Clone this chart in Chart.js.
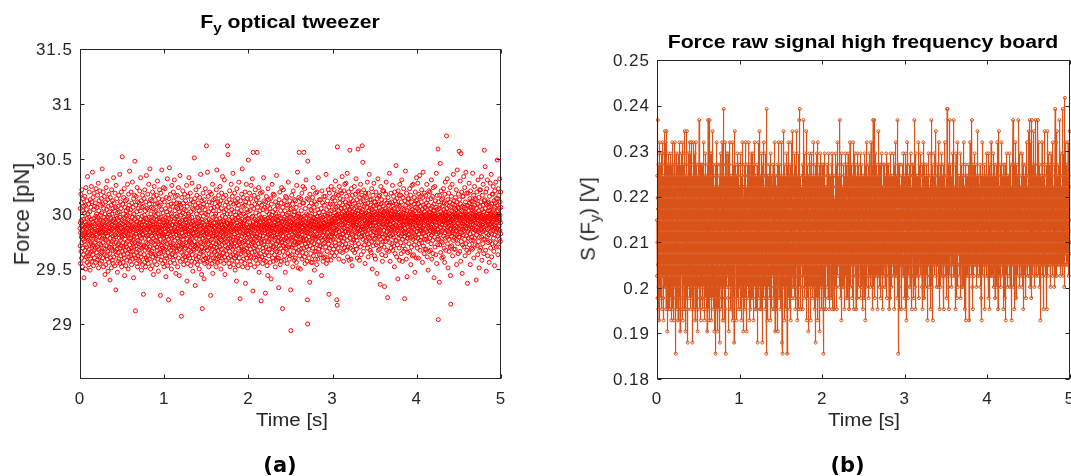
<!DOCTYPE html>
<html><head><meta charset="utf-8">
<script src="https://cdn.jsdelivr.net/npm/chart.js@4.4.1/dist/chart.umd.min.js"></script>
<style>
html,body{margin:0;padding:0;background:#fff;}
#wrap{position:relative;width:1071px;height:476px;overflow:hidden;font-family:"Liberation Sans",Arial,sans-serif;}
canvas{position:absolute;left:0;top:0;}
.t{position:absolute;white-space:nowrap;line-height:1;color:#262626;}
.sub{font-size:0.72em;position:relative;top:0.34em;}
</style></head>
<body><div id="wrap">
<canvas id="ca" width="1071" height="476"></canvas>
<canvas id="cb" width="1071" height="476"></canvas>
<div class="t" style="left:289.5px;top:12.8px;font-size:18px;font-weight:bold;color:#000;transform:translateX(-50%) scaleX(1.18);">F<span class="sub">y</span> optical tweezer</div>
<div class="t" style="left:862.5px;top:32.8px;font-size:18px;font-weight:bold;color:#000;transform:translateX(-50%) scaleX(1.18);">Force raw signal high frequency board</div>
<div class="t" style="left:291.5px;top:412.2px;font-size:17.5px;transform:translateX(-50%) scaleX(1.17);">Time [s]</div>
<div class="t" style="left:863.5px;top:412.2px;font-size:17.5px;transform:translateX(-50%) scaleX(1.17);">Time [s]</div>
<div class="t" style="left:21.5px;top:214px;font-size:22px;transform:translate(-50%,-50%) rotate(-90deg);">Force [pN]</div>
<div class="t" style="left:587.5px;top:218.5px;font-size:20.5px;transform:translate(-50%,-50%) rotate(-90deg);">S (F<span class="sub">y</span>) [V]</div>
<div class="t" style="left:280px;top:454.9px;font-size:21px;font-weight:bold;color:#000;font-family:'DejaVu Sans';transform:translateX(-50%);">(a)</div>
<div class="t" style="left:847.5px;top:454.9px;font-size:21px;font-weight:bold;color:#000;font-family:'DejaVu Sans';transform:translateX(-50%);">(b)</div>
</div>
<script>
// ---------- Panel (a): optical tweezer force in pN, 600 samples per second ----------
const forceA = [
29.87,29.71,30.05,29.92,29.55,29.83,30.18,29.66,29.94,29.79,30.1,29.6,29.89,30.22,29.74,29.85,29.98,29.52,29.81,30.03,29.69,29.9,30.14,29.77,29.86,29.63,30.07,29.95,29.42,29.8,
30.01,29.75,29.58,29.88,30.16,29.82,29.67,29.93,30.08,29.5,29.84,29.72,30.24,29.9,29.61,29.79,30.04,29.86,29.7,30.12,29.96,29.56,29.83,29.65,30.34,29.91,29.78,30.0,29.62,29.89,
29.76,30.09,29.84,29.54,29.97,29.68,30.2,29.81,29.92,29.64,30.02,29.87,29.49,29.75,30.13,29.9,29.59,29.82,30.06,29.73,29.95,30.25,29.66,29.88,29.8,29.57,30.11,29.85,29.71,30.38,
29.93,29.63,29.8,30.15,29.72,29.89,29.53,30.04,29.78,29.96,30.19,29.67,29.84,29.6,30.07,29.91,29.74,29.36,29.86,30.1,29.69,29.98,29.56,29.82,30.23,29.77,29.94,29.65,30.0,29.85,
29.81,30.06,29.58,29.92,29.7,30.17,29.85,29.62,29.97,29.76,30.28,29.88,29.51,29.83,30.03,29.68,29.9,30.12,29.73,29.95,29.61,29.86,30.21,29.79,29.55,29.99,29.84,30.08,29.66,29.89,
29.72,29.94,30.14,29.83,29.57,30.01,29.87,29.65,30.41,29.78,29.91,30.09,29.6,29.84,29.74,30.2,29.93,29.52,29.8,30.05,29.69,29.97,29.86,30.16,29.63,29.89,29.77,30.0,29.45,29.82,
29.9,29.68,30.11,29.85,29.54,29.95,30.24,29.76,29.83,29.62,30.04,29.88,29.71,30.3,29.93,29.59,29.8,30.13,29.66,29.97,29.48,29.84,30.07,29.74,29.91,29.56,30.18,29.87,29.7,29.99,
29.84,30.02,29.64,29.92,29.4,29.78,30.15,29.88,29.6,29.96,29.73,30.08,29.82,29.51,29.9,30.22,29.69,29.86,30.0,29.75,29.58,29.94,30.12,29.8,29.67,30.05,29.87,29.55,29.93,30.33,
29.77,29.95,29.61,30.1,29.85,29.7,30.03,29.89,29.53,29.81,30.19,29.66,29.92,29.79,30.06,29.31,29.87,30.26,29.74,29.98,29.63,29.83,30.14,29.9,29.68,29.96,29.47,29.86,30.01,29.72,
29.88,29.65,30.07,29.82,29.57,29.94,30.17,29.73,29.59,29.9,30.02,29.78,29.85,30.36,29.69,29.97,29.55,29.83,30.11,29.76,29.92,29.62,30.05,29.87,29.71,30.2,29.8,29.52,29.95,29.84,
29.79,30.52,29.66,29.91,30.09,29.74,29.85,29.56,30.0,29.88,29.63,30.15,29.81,29.7,29.96,30.23,29.6,29.86,29.44,29.93,30.06,29.77,29.89,29.67,30.12,29.83,29.53,29.98,29.73,30.03,
29.92,29.7,29.84,30.13,29.58,29.87,29.99,29.75,30.27,29.82,29.64,29.95,30.05,29.5,29.8,29.9,30.18,29.68,29.86,29.61,30.08,29.78,29.94,30.39,29.72,29.85,29.57,30.01,29.89,29.66,
29.85,30.04,29.62,29.78,30.2,29.93,29.69,29.87,29.54,30.1,29.81,29.74,29.97,30.29,29.66,29.89,29.59,29.83,30.06,29.76,29.91,29.42,30.14,29.86,29.7,30.0,29.8,29.63,29.95,30.17,
29.74,30.48,29.88,29.6,29.96,29.12,29.82,30.08,29.71,29.9,30.16,29.65,29.85,29.55,30.02,29.79,29.93,30.24,29.68,29.87,29.52,30.11,29.76,29.97,29.62,29.84,30.05,29.73,29.91,29.58,
29.89,29.67,30.1,29.83,29.75,30.21,29.57,29.92,29.8,30.03,29.64,29.87,30.33,29.72,29.95,29.61,29.84,30.12,29.49,29.9,29.78,30.06,29.69,29.98,29.86,30.17,29.54,29.81,29.93,29.7,
29.82,30.07,29.27,29.94,29.71,29.88,30.14,29.63,29.85,29.99,29.56,30.22,29.78,29.9,29.67,30.03,29.83,29.52,29.96,30.11,29.74,29.87,29.6,30.35,29.8,29.69,29.92,30.05,29.58,29.86,
29.95,29.73,29.86,30.18,29.62,29.9,29.55,30.04,29.81,29.68,30.27,29.88,29.77,29.97,29.59,30.09,29.84,29.7,30.41,29.92,29.65,29.83,30.13,29.5,29.89,30.0,29.75,29.94,29.64,30.06,
29.8,29.97,29.66,30.12,29.87,29.53,29.93,30.2,29.74,29.85,29.61,30.05,29.9,29.45,29.78,30.16,29.69,29.96,29.83,30.25,29.57,29.88,29.72,30.02,29.91,29.63,30.09,29.84,29.76,29.98,
29.86,29.62,30.03,29.79,30.17,29.91,29.7,29.54,29.95,30.1,29.83,29.67,30.3,29.88,29.75,29.59,30.0,29.82,29.48,29.93,30.14,29.73,29.87,29.64,30.07,29.8,29.96,30.22,29.68,29.85,
29.93,29.77,30.08,29.26,29.88,29.65,30.19,29.84,29.58,29.97,29.72,30.04,29.86,30.4,29.61,29.9,29.8,30.13,29.69,29.95,29.55,29.82,30.01,29.74,29.89,30.24,29.66,29.92,29.78,29.52,
29.81,30.11,29.68,29.94,29.57,29.87,30.23,29.75,29.9,29.62,30.05,29.84,29.43,29.97,29.7,30.15,29.79,29.88,30.02,29.6,29.93,29.73,30.32,29.86,29.53,29.99,29.82,30.08,29.65,29.91,
29.77,29.22,29.96,29.85,30.14,29.69,29.89,30.42,29.61,29.83,30.04,29.74,29.92,29.56,30.18,29.8,29.67,29.95,30.09,29.72,29.87,29.5,30.0,29.78,29.9,30.26,29.63,29.84,29.98,29.7,
29.9,29.64,30.07,29.82,29.73,30.2,29.58,29.93,29.86,30.12,29.69,29.79,30.31,29.88,29.55,29.96,29.76,30.03,29.84,29.62,30.16,29.91,29.71,29.46,29.85,30.06,29.81,29.67,29.97,30.1,
29.84,29.98,29.66,30.17,29.78,29.9,29.52,30.05,29.87,29.71,29.95,30.24,29.6,29.83,29.75,30.1,29.92,29.44,29.8,30.02,29.68,29.89,30.35,29.74,29.93,29.57,30.08,29.86,29.7,29.99,
29.79,30.06,29.07,29.88,29.65,30.15,29.83,29.28,29.94,29.72,30.01,29.86,29.59,30.21,29.77,29.91,29.63,30.1,29.8,29.54,29.97,29.73,30.04,29.87,29.68,29.9,30.18,29.61,29.84,29.95,
29.87,29.69,30.12,29.81,29.58,29.95,30.03,29.74,29.89,30.26,29.64,29.84,29.39,29.92,30.07,29.77,29.86,29.55,30.16,29.9,29.71,29.98,29.62,30.0,29.82,29.67,30.33,29.85,29.75,29.93,
29.76,29.96,29.6,30.09,29.84,29.7,30.19,29.88,29.53,29.8,30.02,29.66,29.91,30.13,29.74,29.85,29.57,29.97,30.28,29.79,29.63,29.89,30.05,29.72,29.48,29.93,29.82,30.11,29.68,29.86,
29.83,30.04,29.67,29.9,30.51,29.75,29.87,29.56,30.14,29.8,29.94,29.35,29.71,30.08,29.86,29.62,30.22,29.78,29.92,29.59,30.0,29.84,29.69,30.17,29.89,29.73,29.97,29.54,30.06,29.81,
29.91,29.72,30.1,29.85,29.61,29.96,30.25,29.68,29.82,29.5,30.03,29.89,29.77,30.15,29.64,29.93,29.8,30.07,29.57,29.86,30.36,29.74,29.9,29.66,30.01,29.83,29.45,29.95,29.7,30.12,
29.78,29.14,29.92,30.06,29.73,29.87,29.58,30.19,29.84,29.66,29.98,30.09,29.62,29.81,29.41,29.9,30.13,29.75,29.88,29.55,30.04,29.8,29.69,30.23,29.86,29.6,29.94,29.76,30.0,29.83,
29.85,30.62,29.7,29.93,29.56,30.08,29.82,29.67,30.38,29.88,29.75,29.99,29.6,29.84,30.16,29.73,29.9,29.52,30.02,29.79,29.64,29.95,30.11,29.87,29.69,30.2,29.81,29.58,29.92,29.76,
29.9,29.26,29.83,30.05,29.71,29.94,30.18,29.63,29.86,29.77,30.1,29.55,29.89,29.68,30.27,29.8,29.46,29.97,29.74,30.03,29.85,29.6,30.13,29.92,29.7,29.83,30.06,29.65,29.88,29.57,
29.8,29.98,29.66,30.14,29.87,29.59,29.92,30.0,29.73,29.84,29.52,30.22,29.78,29.95,29.69,30.4,29.82,29.63,30.07,29.89,29.75,29.56,29.93,30.11,29.67,29.86,29.79,30.17,29.61,29.91,
29.74,30.03,29.88,29.62,30.09,29.81,29.7,29.96,30.25,29.57,29.85,29.77,30.12,29.93,29.5,29.83,30.05,29.68,29.9,30.19,29.76,29.6,29.87,29.98,29.72,30.34,29.64,29.84,29.94,29.79,
29.88,29.65,30.15,29.8,29.93,29.55,30.02,29.74,29.86,30.31,29.61,29.9,29.78,29.45,30.08,29.84,29.71,29.97,30.17,29.67,29.82,29.58,30.04,29.89,29.75,30.11,29.92,29.63,29.85,30.0,
29.83,30.62,29.69,29.91,29.77,30.54,29.6,29.87,30.06,29.73,29.95,29.55,30.13,29.81,29.89,29.66,30.21,29.78,29.94,29.52,30.0,29.85,29.7,30.1,29.62,29.92,29.8,30.27,29.74,29.86,
29.9,29.72,30.04,29.84,29.58,29.97,30.16,29.68,29.88,29.79,30.37,29.63,29.93,29.76,30.09,29.54,29.85,30.02,29.7,29.91,29.6,30.19,29.82,29.96,29.74,29.49,30.12,29.87,29.65,29.99,
29.76,29.95,29.62,30.1,29.86,29.39,29.92,30.23,29.71,29.83,29.57,30.05,29.89,29.78,30.14,29.64,29.97,29.8,29.53,30.08,29.87,29.69,30.29,29.75,29.9,29.6,30.01,29.84,29.73,29.94,
29.84,29.23,29.99,29.77,30.12,29.88,29.64,29.93,30.03,29.7,29.57,29.86,30.18,29.8,29.95,29.66,30.41,29.74,29.89,29.52,30.07,29.82,29.68,30.15,29.91,29.59,29.85,30.0,29.75,29.92,
29.89,29.67,30.08,29.81,29.94,29.55,30.2,29.76,29.87,29.37,29.98,30.11,29.63,29.83,29.72,30.27,29.9,29.6,29.85,30.04,29.69,29.96,29.78,30.14,29.51,29.88,29.74,30.02,29.82,29.65,
30.49,29.85,29.71,29.96,30.1,29.63,29.88,29.79,30.19,29.57,29.92,29.84,30.03,29.68,29.9,29.54,30.14,29.77,29.87,30.26,29.61,29.83,29.97,29.73,30.07,29.89,29.65,29.8,30.32,29.75,
29.86,29.98,29.3,29.9,30.56,29.74,29.93,29.6,30.05,29.82,29.69,30.17,29.88,29.77,29.52,30.09,29.85,29.95,29.66,30.22,29.8,29.71,29.91,30.01,29.58,29.87,30.13,29.76,29.94,29.63,
29.79,29.91,30.56,29.82,29.67,30.06,29.87,29.55,29.95,30.15,29.73,29.86,29.62,30.24,29.9,29.78,29.47,29.99,29.84,30.1,29.7,29.93,29.59,30.03,29.81,29.88,30.19,29.64,29.76,29.97,
29.92,29.21,29.86,29.74,30.08,29.9,29.61,29.83,30.2,29.77,29.96,29.55,29.88,29.69,30.04,29.93,29.8,29.66,30.33,29.85,29.72,30.12,29.58,29.89,29.97,29.75,30.06,29.83,29.63,29.91,
29.85,29.28,29.95,30.11,29.7,29.88,29.57,29.92,30.16,29.79,29.65,30.02,29.87,29.53,29.9,30.07,29.75,29.84,29.44,29.96,30.23,29.81,29.68,29.89,30.13,29.62,29.93,29.77,30.0,29.86,
29.88,29.68,29.94,30.05,29.82,29.56,29.97,29.78,30.14,29.89,29.72,29.85,29.41,29.91,30.09,29.8,29.99,29.65,29.87,30.27,29.74,29.84,29.6,29.95,30.02,29.7,29.9,30.18,29.57,29.83,
29.8,29.96,29.7,29.89,30.17,29.83,29.63,29.93,29.76,30.04,29.87,29.52,29.95,29.78,30.11,29.68,29.9,30.0,29.58,29.86,30.35,29.73,29.88,29.66,29.98,30.08,29.6,29.82,29.94,29.75,
29.91,29.76,30.07,29.84,29.6,29.94,29.33,29.79,29.98,30.13,29.71,29.87,29.65,29.92,30.2,29.81,29.54,29.96,29.85,30.03,29.69,29.89,29.77,30.1,29.83,29.57,29.93,30.24,29.74,29.88,
29.75,29.93,29.85,29.14,30.0,30.06,29.8,29.66,29.9,30.22,29.84,29.71,29.95,29.58,29.87,30.12,29.77,29.97,29.62,29.86,30.03,29.73,29.92,29.47,29.82,30.16,29.69,29.89,29.78,30.08,
29.94,29.78,30.15,29.86,29.68,29.96,29.83,29.55,29.91,30.08,29.75,29.99,29.64,29.85,30.29,29.77,29.93,29.7,29.88,30.01,29.8,29.59,29.97,29.87,30.12,29.72,29.9,29.62,30.04,29.84,
29.86,29.31,29.93,28.94,29.78,30.05,29.89,29.7,29.97,30.17,29.81,29.63,29.92,29.76,30.09,29.85,29.52,29.95,29.79,30.21,29.72,29.9,29.99,29.66,29.87,30.02,29.58,29.84,30.13,29.74,
29.91,29.75,30.02,29.83,29.6,29.96,30.12,29.78,29.89,29.69,30.06,29.93,29.56,29.82,30.26,29.87,29.73,29.98,29.65,29.9,30.38,29.8,29.94,29.74,29.88,29.51,30.0,29.85,29.67,30.15,
29.82,29.98,30.56,29.74,29.89,29.62,29.93,30.08,29.79,29.86,29.5,29.96,30.14,29.77,29.91,29.68,29.84,30.03,29.97,29.72,29.88,30.19,29.59,29.92,29.81,30.1,29.65,29.87,29.76,30.25,
29.78,29.95,29.85,30.1,29.69,30.56,29.9,29.76,29.98,29.61,29.86,30.23,29.8,29.93,29.55,29.89,30.05,29.73,29.96,29.84,29.64,30.31,29.88,29.77,30.0,29.7,29.92,29.57,30.14,29.83,
29.22,29.87,29.0,30.48,29.91,29.74,29.99,29.83,30.13,29.68,29.93,29.79,29.6,29.89,30.07,29.76,29.95,29.38,29.86,30.18,29.71,29.9,29.82,29.98,29.64,30.04,29.85,29.56,29.94,30.1,
29.89,30.03,29.75,29.94,29.8,29.56,29.91,30.15,29.86,29.69,29.97,29.78,30.24,29.88,29.62,29.93,29.81,30.06,29.73,29.9,29.49,29.96,30.11,29.79,29.87,29.66,30.0,29.84,29.59,30.19,
29.93,29.77,29.88,30.09,29.66,29.95,29.82,29.54,29.91,30.2,29.79,29.72,29.98,29.87,30.04,29.59,29.9,29.85,30.33,29.75,29.94,29.68,29.89,30.01,29.8,30.13,29.63,29.92,29.86,29.71,
29.87,29.98,29.71,29.91,30.13,29.78,29.85,29.63,29.96,30.05,29.89,29.44,29.83,29.94,30.21,29.76,29.9,29.67,29.87,30.1,29.81,29.97,29.57,29.88,30.02,29.73,29.92,29.6,30.16,29.84,
29.84,30.08,29.92,29.74,29.88,29.99,29.61,29.86,30.16,29.79,29.95,29.7,29.89,30.36,29.77,29.93,29.55,29.87,30.04,29.81,29.98,29.66,29.91,30.12,29.83,29.58,30.0,29.76,29.9,30.22,
29.9,29.73,29.96,30.06,29.27,29.87,29.8,30.19,29.93,29.69,29.88,30.0,29.62,29.85,30.09,29.91,29.76,29.97,29.58,29.89,30.25,29.79,29.94,29.71,30.03,29.84,29.65,29.92,30.14,29.82,
29.94,30.09,29.83,29.98,29.77,30.15,29.91,29.68,29.96,30.04,29.85,30.22,29.79,29.93,29.62,30.01,29.87,30.12,29.74,29.97,30.3,29.82,29.92,29.71,30.06,29.89,30.18,29.65,29.99,29.86,
29.22,29.99,29.86,29.17,30.61,29.93,30.07,29.8,29.96,29.69,30.17,29.88,30.0,29.76,30.03,29.59,29.94,30.25,29.84,29.98,29.73,30.1,29.9,29.81,30.14,29.66,29.97,30.21,29.78,30.05,
29.97,29.79,30.05,29.9,30.19,29.72,29.95,29.85,30.34,30.0,29.65,29.91,30.08,29.82,29.98,30.13,29.75,29.94,29.57,30.02,29.87,30.21,29.78,29.96,30.06,29.69,29.92,30.27,29.84,29.99,
29.88,30.11,29.98,29.73,29.93,30.28,29.84,30.03,29.67,29.96,30.16,29.8,30.0,29.89,30.37,29.76,29.95,29.61,30.07,29.86,30.01,29.7,29.97,30.2,29.83,29.92,30.1,29.58,29.94,30.04,
29.99,29.85,30.09,30.58,29.78,29.94,30.04,29.69,29.98,30.14,29.87,29.59,29.96,30.23,29.82,29.91,30.06,29.74,30.0,29.53,29.89,30.17,29.81,29.97,30.02,29.67,29.93,30.12,29.76,29.9,
29.92,30.05,29.77,29.99,30.25,29.86,29.95,29.65,30.1,29.84,30.01,29.94,29.71,30.18,29.88,29.98,29.79,30.32,29.96,29.68,30.07,29.83,29.93,30.13,29.76,29.9,29.6,30.03,29.87,30.2,
30.0,30.59,29.87,29.97,30.08,29.73,29.94,30.21,29.82,30.03,29.9,29.58,29.98,30.15,29.85,29.95,30.05,29.7,29.91,30.27,29.99,29.79,30.11,29.86,29.63,29.96,30.02,29.8,30.17,29.88,
29.96,30.62,29.83,30.04,29.91,30.47,29.77,29.99,30.12,29.86,29.66,29.97,30.22,29.89,29.81,30.07,29.95,29.72,30.16,30.0,29.87,29.55,29.94,30.09,29.84,29.92,30.19,29.75,30.01,29.9,
30.01,29.88,30.15,29.76,29.96,30.06,29.82,30.29,29.93,29.69,29.99,30.1,29.85,29.61,29.95,30.19,29.79,29.98,30.03,29.73,29.92,30.36,29.86,30.0,29.78,29.94,30.13,29.67,29.89,30.05,
29.93,30.08,29.83,29.97,29.65,30.13,29.89,29.99,30.23,29.75,29.94,30.04,29.5,29.87,30.01,29.96,29.81,30.17,29.9,29.71,29.98,30.07,29.84,29.95,30.28,29.77,29.92,30.11,29.62,30.02,
29.86,29.99,30.11,29.78,29.95,29.59,30.05,29.92,29.83,30.2,29.97,29.72,29.89,30.08,30.0,29.81,29.46,29.96,30.14,29.87,29.74,30.02,29.94,30.32,29.85,29.67,30.09,29.91,29.79,30.16,
29.98,29.8,30.06,29.93,29.68,30.0,30.17,29.86,29.95,29.36,30.03,29.84,29.97,30.25,29.77,29.92,30.09,29.72,29.99,29.88,30.13,29.63,29.96,29.82,30.04,29.57,29.9,30.21,29.75,30.01,
29.91,30.07,29.79,29.98,30.21,29.85,29.94,29.7,30.02,29.96,29.34,29.89,30.12,29.81,30.0,30.05,29.75,29.95,29.62,30.18,29.88,29.97,30.29,29.83,29.93,29.67,30.1,29.9,29.78,30.03,
29.97,29.84,29.24,30.01,29.93,30.15,29.78,29.99,29.87,30.08,29.66,29.95,30.04,29.82,29.91,30.37,29.74,29.96,30.1,29.86,29.57,30.0,29.94,30.03,29.8,29.9,30.19,29.69,29.98,29.85,
29.94,30.11,29.86,29.73,29.98,30.03,29.88,30.26,29.81,29.96,29.67,30.07,29.92,29.79,30.16,29.97,29.71,30.0,29.85,30.05,29.52,29.95,30.2,29.87,29.99,29.64,30.12,29.9,29.76,30.02,
29.83,30.0,30.44,29.89,29.76,30.09,29.96,29.61,29.93,30.14,29.85,29.99,29.72,30.04,29.88,29.41,29.97,30.21,29.82,29.95,30.08,29.78,29.92,30.02,29.69,30.17,29.87,29.58,29.96,30.27,
29.98,29.87,30.07,29.8,29.96,30.17,29.74,29.93,30.0,29.64,30.11,29.86,29.95,30.31,29.82,29.97,29.57,29.91,30.05,29.77,29.99,30.15,29.85,29.71,30.01,29.9,30.23,29.66,29.94,29.83,
29.9,30.04,29.79,29.23,29.97,30.12,29.87,29.68,29.96,30.39,29.83,29.94,30.08,29.75,30.0,29.59,29.91,30.19,29.84,29.98,29.43,30.03,29.93,29.78,30.1,29.88,29.65,30.14,29.95,29.81,
29.95,29.85,30.14,29.99,29.73,29.91,30.06,29.82,29.97,30.23,29.66,29.93,29.89,30.02,29.78,29.96,30.17,29.54,29.92,30.07,29.84,30.0,29.7,30.11,29.94,29.79,30.26,29.87,29.62,30.04,
29.88,30.01,29.77,29.96,30.27,29.83,29.93,29.63,29.99,30.09,29.86,29.72,30.15,29.95,29.81,30.03,29.47,29.97,29.9,30.2,29.79,29.98,30.06,29.75,29.92,30.12,29.6,29.89,30.33,29.84,
29.97,30.13,29.84,29.94,29.69,30.05,29.87,30.28,29.98,29.78,29.92,30.09,29.6,29.96,30.18,29.82,30.0,29.73,30.03,29.89,30.35,29.85,29.95,29.67,30.07,29.91,29.76,30.16,29.86,30.01,
29.93,29.79,30.11,29.98,29.85,30.22,29.74,29.95,30.04,29.87,29.56,29.97,30.15,29.82,30.0,30.38,29.89,29.71,29.96,30.08,29.83,29.98,29.64,30.02,29.9,30.19,29.77,29.94,30.06,29.68,
29.99,30.06,29.8,29.94,30.17,29.86,29.68,29.97,30.1,29.77,29.93,30.27,29.84,30.0,29.61,29.95,30.04,29.89,29.75,30.13,29.98,29.49,29.87,30.08,29.82,29.92,30.21,29.66,29.96,30.02,
29.9,30.01,29.78,29.97,30.2,29.85,29.94,29.67,30.05,29.88,29.99,30.14,29.73,29.96,30.31,29.81,29.91,29.59,29.98,30.07,29.86,29.95,30.16,29.76,30.0,29.64,29.93,30.24,29.83,30.03,
29.85,29.98,30.09,29.42,29.94,30.03,29.79,29.96,30.25,29.87,29.7,30.0,29.84,30.12,29.93,29.63,30.06,29.89,29.98,30.37,29.82,29.95,29.55,29.9,30.04,29.77,30.17,29.86,29.99,29.72,
29.96,30.59,29.86,29.04,30.11,29.94,29.77,29.99,30.05,29.83,29.38,29.92,30.17,29.97,29.72,30.08,29.88,30.46,29.81,29.98,29.65,30.02,29.93,30.21,29.84,29.75,30.13,29.9,29.6,30.0,
29.91,30.07,29.98,29.74,29.95,30.14,29.85,30.0,29.61,29.93,30.23,29.8,29.97,30.04,29.69,29.94,30.1,29.87,29.56,29.99,30.18,29.83,29.96,30.29,29.78,29.9,30.02,29.67,29.92,30.09,
29.98,29.85,30.71,29.94,30.05,29.79,29.99,30.32,29.88,29.73,29.96,30.13,29.51,29.92,30.01,29.84,29.97,30.19,29.77,29.95,29.66,30.07,29.89,30.0,30.11,29.82,29.93,30.24,29.7,29.87,
29.44,29.93,29.18,30.06,29.86,29.98,30.16,29.8,29.95,29.71,30.03,29.89,30.27,29.83,29.99,29.62,29.94,30.09,29.85,29.97,30.36,29.76,29.92,30.02,29.87,29.68,30.12,29.9,29.78,30.05,
29.96,30.08,29.82,30.0,29.68,30.15,29.89,29.98,30.04,29.77,29.94,30.22,29.85,29.54,29.97,30.11,29.81,29.95,30.4,29.88,29.99,29.73,30.06,29.92,29.98,29.64,30.18,29.86,30.01,29.79,
30.05,29.87,30.57,29.97,29.79,30.13,29.94,29.66,30.0,30.3,29.84,29.95,30.09,29.57,29.92,30.55,29.99,29.75,30.03,29.89,30.2,29.83,29.96,29.46,30.07,29.91,29.72,30.16,29.86,30.02,
29.94,30.16,29.81,29.98,30.34,29.88,29.7,29.97,30.06,29.85,30.0,30.24,29.77,29.93,29.62,30.02,29.89,30.11,29.96,29.73,30.38,29.87,29.98,30.05,29.8,29.92,30.19,29.67,29.95,30.08,
29.97,29.37,29.91,30.07,29.84,29.99,30.19,29.78,29.94,30.03,29.65,29.96,30.28,29.86,30.0,29.72,30.1,29.9,30.14,29.82,29.98,29.54,29.95,30.21,29.88,29.76,30.06,29.93,29.69,30.12,
29.93,30.04,29.79,29.98,30.11,29.87,29.96,29.68,30.37,29.91,30.0,29.76,30.06,29.94,29.83,30.17,29.6,29.97,30.02,29.86,29.95,30.25,29.78,29.99,30.08,29.72,29.9,30.14,29.85,30.01,
29.85,29.96,30.13,29.4,29.92,30.05,29.81,29.98,30.2,29.88,29.71,29.95,30.09,29.99,29.63,29.91,30.31,29.84,29.97,30.03,29.75,29.94,30.15,29.87,29.51,30.0,29.79,30.22,29.9,29.67,
30.0,30.07,29.83,29.96,30.22,29.89,29.69,29.98,30.11,29.86,29.94,30.34,29.79,29.97,29.58,30.04,29.9,30.17,29.84,29.99,29.73,30.08,29.93,30.27,29.88,29.77,30.02,29.95,29.64,30.12,
29.96,30.58,29.85,29.99,30.13,29.77,29.94,30.43,29.89,30.05,29.67,29.98,30.2,29.83,29.96,29.48,30.09,29.9,30.0,30.23,29.79,29.97,30.31,29.86,29.62,29.93,30.1,29.74,30.03,29.91,
29.94,30.11,29.81,29.98,30.06,29.87,29.56,29.96,30.16,29.9,29.75,30.03,29.99,30.28,29.84,29.95,29.69,30.07,29.91,30.0,30.36,29.82,29.97,29.61,30.09,29.88,30.18,29.73,29.93,30.02,
29.89,29.99,30.18,29.85,29.96,30.25,29.78,29.94,30.04,29.66,29.98,30.12,29.87,29.95,29.53,30.06,29.9,30.21,29.81,30.0,30.1,29.74,29.97,30.29,29.84,29.92,30.14,29.7,29.99,29.86,
29.95,30.08,29.87,30.49,29.98,29.8,30.14,29.93,29.63,30.03,29.97,30.23,29.86,30.0,29.7,30.17,29.89,29.96,30.05,29.77,29.94,30.32,29.85,29.99,30.11,29.75,29.92,30.2,29.82,30.06
];
const sampleRateA = 600;               // samples per second
const xTicksA = [0, 1, 2, 3, 4, 5];
const yTicksA = [29, 29.5, 30, 30.5, 31, 31.5];

// ---------- Panel (b): raw ADC counts of the force signal, 600 samples per second ----------
const signalCountsB = [
88,83,92,86,81,90,97,84,89,80,93,86,82,91,87,79,94,85,88,82,95,86,90,83,89,85,92,81,87,93,
85,91,88,82,94,86,80,89,93,84,87,95,83,90,86,81,92,88,79,91,85,89,94,83,87,90,82,88,96,85,
84,90,86,95,82,88,80,92,85,89,96,83,87,91,78,89,84,93,86,81,90,87,94,83,88,85,91,80,89,86,
90,83,87,93,80,88,85,92,81,89,94,86,84,91,79,87,93,85,90,82,88,95,84,86,91,80,89,87,83,92,
91,85,79,88,93,84,90,82,87,95,83,89,86,92,81,88,76,90,85,94,82,87,91,84,89,80,93,86,83,90,
84,92,86,79,90,87,83,94,85,88,81,91,86,95,82,89,84,92,78,88,86,93,80,90,85,87,91,83,89,94,
86,92,83,89,81,95,85,88,79,91,84,90,87,82,93,86,89,80,94,85,88,83,96,87,84,90,78,89,85,92,
88,81,93,85,90,83,87,96,84,89,80,92,86,88,77,91,85,94,83,89,87,82,90,86,93,81,88,85,95,84,
83,89,94,85,80,91,87,84,95,82,88,90,86,81,93,85,89,77,91,84,87,92,83,95,86,80,90,88,84,91,
86,90,82,88,94,84,91,79,87,92,85,89,83,95,86,80,90,88,84,93,82,87,91,85,89,78,92,86,88,83,
89,84,90,82,93,86,97,83,88,80,92,85,89,81,91,87,84,93,86,79,90,85,88,82,93,86,84,90,87,81,
91,85,88,80,93,86,84,90,82,95,87,89,83,91,85,79,92,86,88,84,94,81,89,87,83,90,86,92,80,88,
85,91,83,88,78,90,86,93,84,89,82,97,85,91,80,88,84,92,86,79,90,83,97,87,85,92,81,89,86,94,
83,89,92,86,79,88,94,85,90,82,87,91,84,96,86,89,81,93,85,88,80,90,87,84,92,86,78,91,85,89,
90,84,87,81,92,76,89,85,93,83,88,80,91,86,95,84,89,82,90,78,87,93,85,89,83,91,86,80,88,84,
89,86,81,92,88,84,90,77,93,85,88,82,91,86,94,83,89,80,87,92,85,90,84,95,82,88,86,91,79,87,
87,93,83,90,85,98,82,88,79,92,86,84,91,81,89,95,84,87,80,93,76,88,85,91,83,89,86,94,82,88,
85,92,87,83,90,86,94,81,88,91,84,89,78,93,86,90,82,88,85,95,83,91,87,80,89,86,92,84,90,88,
84,89,82,92,86,80,90,85,95,83,88,79,91,87,84,93,81,89,86,90,77,88,84,92,85,96,83,89,86,91,
90,84,88,93,82,87,91,85,79,92,86,89,83,94,87,81,90,85,88,92,84,89,80,91,86,93,85,88,82,90,
86,91,83,88,80,93,85,89,82,94,87,84,90,79,88,85,92,83,89,86,95,81,88,84,91,86,78,90,85,88,
87,83,91,86,89,80,93,85,88,82,92,86,90,84,95,81,89,87,83,91,85,88,78,90,86,93,84,89,87,82,
89,84,92,81,88,86,95,83,90,85,79,91,87,84,93,82,89,86,80,92,85,88,83,94,86,81,90,87,84,89,
84,90,86,92,83,88,81,94,87,85,91,79,89,86,93,84,88,82,90,87,95,83,89,85,91,80,88,86,92,84,
83,90,86,92,80,88,85,93,82,89,87,77,91,84,88,86,95,83,90,81,89,85,92,84,96,82,88,86,91,80,
91,86,83,89,85,92,80,88,94,84,87,90,82,91,86,77,93,85,89,83,90,87,84,92,86,88,81,95,85,89,
88,85,91,82,89,86,94,80,87,92,84,89,81,90,76,93,98,85,88,83,91,86,79,89,84,92,85,87,90,82,
86,89,92,84,88,81,90,86,93,83,88,85,91,79,89,87,94,82,90,85,88,86,92,80,89,84,91,87,83,90,
85,90,83,93,86,81,89,84,92,87,80,91,85,88,82,95,84,89,78,90,86,83,92,85,88,80,91,87,84,89,
88,82,90,85,93,87,84,91,78,89,86,92,83,88,95,85,90,81,87,93,84,89,86,82,91,88,80,92,85,87,
90,83,88,85,95,82,89,86,77,91,84,88,76,92,85,89,82,90,86,96,83,88,84,91,79,89,86,93,85,87,
83,91,87,89,80,92,85,88,84,94,86,90,82,87,91,76,89,85,93,84,88,86,90,83,95,87,81,89,86,92,
84,89,86,91,80,88,85,93,83,90,86,79,92,84,88,82,95,86,89,81,90,85,92,83,96,87,84,90,82,88,
90,85,88,83,92,86,89,81,94,85,87,91,84,88,80,93,86,90,82,89,85,92,87,84,96,86,88,83,91,79,
87,92,84,89,81,90,86,94,83,88,80,91,85,97,84,89,82,98,86,90,83,88,85,92,80,89,86,91,84,87,
85,89,84,91,87,82,90,86,93,80,88,85,92,84,97,87,83,89,86,91,81,88,94,85,90,83,87,92,86,89,
85,90,82,88,96,84,89,86,79,91,83,88,85,93,81,89,86,92,84,78,90,87,83,91,85,89,82,94,86,88,
89,83,92,86,88,84,91,79,87,93,85,90,82,88,86,94,83,89,87,81,92,85,88,90,84,95,86,82,91,87,
89,84,91,83,87,80,92,86,89,82,90,85,77,93,84,88,86,91,81,89,85,94,83,90,86,79,88,92,84,95,
86,92,85,89,81,90,87,84,93,86,88,78,91,85,89,83,94,87,86,90,82,88,85,92,80,89,86,91,84,93,
85,89,82,91,86,88,84,93,87,76,90,85,88,80,92,86,89,81,87,94,85,88,90,84,87,91,86,80,89,85,
88,84,91,87,85,93,82,89,86,90,84,92,88,81,90,86,94,85,89,83,91,87,80,92,86,88,84,90,85,89,
87,92,84,88,81,90,86,93,85,89,83,87,94,80,90,86,88,82,91,85,89,87,83,92,86,88,80,90,85,88,
85,90,87,83,92,86,89,84,94,88,82,91,86,89,85,93,80,88,87,91,84,95,86,89,83,90,88,85,92,86,
89,84,91,86,88,82,93,87,85,97,84,90,86,81,89,87,92,85,88,79,90,86,94,84,88,87,91,85,82,89,
90,86,88,84,91,82,89,87,93,85,88,80,92,86,90,84,89,87,94,83,88,86,91,85,90,81,89,87,93,84,
86,90,83,88,81,92,87,85,94,84,89,82,87,91,86,80,88,93,85,89,84,87,95,86,82,90,88,84,91,87,
87,91,84,89,86,93,85,88,81,90,86,92,84,89,87,95,83,88,86,91,80,89,85,92,87,84,90,86,94,85,
88,83,91,86,93,85,80,89,87,84,92,86,88,81,90,85,94,87,83,89,86,91,82,88,85,93,87,84,90,86,
84,89,86,92,88,83,90,85,94,87,81,91,86,88,84,93,89,85,90,82,88,86,92,84,89,87,80,91,86,90,
87,92,84,89,81,86,90,85,94,88,83,87,91,79,89,86,93,84,88,82,90,87,85,95,86,83,89,88,84,91,
89,85,92,86,90,84,88,81,93,86,89,85,91,83,94,87,86,90,84,88,82,92,86,89,85,95,87,83,90,86,
85,89,83,91,87,80,90,86,93,84,97,87,82,88,92,85,89,83,97,87,84,91,86,81,88,94,85,87,90,83,
86,92,85,88,84,91,87,93,83,89,86,90,80,88,85,92,87,84,96,86,90,83,89,87,91,85,88,82,93,86,
88,84,92,86,89,81,87,93,85,90,83,88,86,94,84,89,82,87,91,85,80,90,86,88,93,84,87,89,83,91,
91,84,89,86,93,85,88,82,90,87,84,92,86,89,83,94,85,88,86,91,81,89,87,93,84,90,86,88,85,92,
86,91,83,88,93,85,80,89,87,92,84,88,86,81,90,85,94,87,83,89,86,91,82,88,85,92,87,84,90,86,
85,90,87,92,84,89,86,94,83,88,85,91,87,80,90,86,93,84,89,86,92,85,88,83,95,87,86,90,84,89,
89,83,88,92,85,87,81,97,86,90,84,88,76,87,93,85,89,82,88,91,86,80,90,87,85,93,84,88,86,91,
88,86,91,84,89,87,80,92,85,90,86,93,84,88,85,91,87,83,94,86,89,85,92,84,88,86,90,81,89,87,
87,92,84,89,80,91,86,94,83,88,85,90,79,93,86,89,84,95,87,82,90,85,88,81,92,86,89,83,91,88,
86,91,85,89,84,93,87,88,82,90,86,92,85,89,87,94,83,90,86,88,84,91,80,89,87,93,85,88,86,92,
85,90,83,88,86,93,81,89,85,97,84,90,87,82,92,86,88,80,91,85,94,86,89,83,90,87,84,92,86,89,
90,85,88,83,92,86,89,87,95,84,88,86,91,81,89,87,93,85,90,86,88,84,92,87,83,90,86,94,85,89,
88,84,91,86,89,82,93,85,90,80,88,86,92,84,95,87,83,90,86,89,81,91,85,88,84,93,86,90,82,89,
87,92,84,90,86,88,85,93,83,89,86,91,87,84,90,79,88,86,92,85,89,87,94,84,90,86,88,82,91,86,
86,91,83,89,85,92,84,88,80,90,86,94,83,97,85,89,82,91,87,84,90,85,93,86,79,89,85,92,84,88,
84,89,87,91,85,94,86,88,83,90,87,85,92,86,89,84,96,88,85,90,86,82,91,87,89,85,93,86,88,84,
90,85,88,82,91,86,89,84,95,87,83,90,85,92,80,88,86,91,84,89,82,93,86,88,85,90,83,94,87,85,
89,86,92,85,88,84,90,87,83,91,86,93,85,89,80,88,86,92,87,84,90,85,95,86,88,83,91,87,85,90,
84,89,86,92,81,88,85,98,83,90,86,98,84,89,87,82,91,85,93,86,80,89,84,92,85,88,83,97,86,90,
86,90,85,93,87,89,84,91,86,88,82,92,85,90,87,86,94,84,89,85,91,88,83,90,86,97,85,89,87,84,
88,83,91,86,89,84,93,85,87,80,90,86,94,83,88,85,92,84,89,81,90,86,95,84,88,82,91,87,85,89,
91,85,89,86,92,84,88,87,90,83,89,86,94,85,88,81,91,87,85,90,86,93,84,89,86,88,82,92,85,90,
86,90,84,88,82,92,85,89,86,95,83,90,87,84,91,85,80,89,86,93,84,88,85,91,79,90,86,88,83,92,
87,84,90,88,85,92,86,89,83,91,87,85,93,86,88,84,90,79,89,86,92,85,88,87,95,84,90,86,89,85,
89,85,92,83,88,86,90,84,97,86,89,82,91,85,88,80,93,86,89,84,90,87,83,92,85,88,86,94,84,89,
84,91,86,89,87,93,85,88,86,90,82,89,85,92,87,84,91,86,96,85,89,83,90,87,85,92,86,88,84,91,
85,91,86,88,83,90,85,93,82,89,86,91,84,88,81,92,85,90,86,79,89,84,95,87,83,90,86,88,84,91,
90,86,88,85,92,84,89,87,91,85,88,80,93,86,89,85,90,87,84,92,86,88,83,91,85,94,87,86,89,85,
88,84,90,86,92,83,89,85,94,81,88,86,91,84,89,80,93,86,88,83,90,85,92,87,84,89,86,95,83,90,
86,91,85,89,87,84,92,86,90,83,88,87,94,85,89,86,91,82,88,85,93,87,84,90,86,89,81,92,86,88,
86,91,84,89,85,93,82,88,86,90,84,95,87,83,91,85,89,80,92,86,88,84,90,85,96,83,89,86,91,84,
89,85,90,87,84,93,86,88,82,91,86,89,85,95,87,84,90,86,88,83,92,85,89,87,91,80,88,86,93,85,
89,85,92,83,90,86,88,81,93,85,89,84,91,86,79,90,85,88,83,94,86,89,84,92,85,88,82,91,86,89,
85,92,87,84,89,86,91,88,83,90,85,94,86,89,87,82,91,86,88,84,93,85,90,87,86,89,79,91,86,88,
85,90,86,88,84,93,97,85,89,82,91,86,88,84,90,80,93,85,89,86,91,83,95,87,84,90,85,88,81,92,
91,84,88,86,93,85,89,87,90,83,88,86,92,85,97,87,84,90,86,89,85,91,82,88,86,94,85,89,87,90,
88,84,91,86,89,83,92,85,88,86,90,84,94,82,89,87,85,91,86,88,80,93,85,89,84,90,86,92,83,88,
86,90,85,91,87,88,84,93,86,89,81,90,86,88,85,92,87,95,84,89,86,91,85,88,83,90,87,86,92,85,
86,96,84,89,85,91,83,97,86,88,82,90,85,95,84,89,86,92,81,88,85,91,86,97,84,89,83,90,86,93,
88,85,92,86,90,84,89,87,96,85,88,82,91,86,89,85,93,87,84,90,86,97,85,88,83,92,86,89,87,91,
90,85,88,84,92,86,89,97,85,90,83,88,86,95,84,91,85,89,82,93,86,88,84,90,79,89,86,92,85,88,
85,91,87,89,84,92,86,95,83,90,87,85,93,86,88,84,91,87,80,89,86,92,85,90,87,84,96,86,89,85,
85,91,86,89,83,90,85,93,84,88,86,92,80,89,85,91,84,96,86,88,83,90,85,94,87,84,89,86,91,84,
90,86,88,84,93,85,89,86,91,82,88,87,94,85,90,86,89,84,92,87,85,91,86,88,83,95,86,90,85,89,
89,84,91,86,88,82,93,85,90,84,89,86,98,85,88,83,92,86,89,84,95,87,85,91,83,96,86,90,84,88,
87,92,85,89,86,90,84,93,86,88,85,91,87,97,84,89,86,92,85,90,83,88,86,94,87,85,91,86,89,84,
86,90,85,92,84,89,86,98,83,91,85,88,86,94,84,90,85,88,82,92,86,89,84,99,86,91,85,95,87,88,
85,89,87,92,84,90,86,88,93,85,89,86,91,84,88,87,95,85,90,86,89,83,92,86,88,85,91,87,96,86
];
const voltsPerCount = 0.00244140625;   // 2.5 V / 1024 counts
const sampleRateB = 600;               // samples per second
const xTicksB = [0, 1, 2, 3, 4, 5];
const yTicksB = [0.18, 0.19, 0.2, 0.21, 0.22, 0.23, 0.24, 0.25];

// ---------- shared helpers ----------
const AX = '#262626';
const tickFont = { family: 'Liberation Sans', size: 17 };

const matlabAxes = {
  id: 'matlabAxes',
  beforeDraw(chart) { chart.ctx.letterSpacing = '1px'; },
  afterDatasetsDraw(chart) {
    const { ctx, chartArea: a, scales: { x, y } } = chart;
    ctx.save();
    ctx.strokeStyle = AX; ctx.lineWidth = 1;
    const L = Math.round(a.left) + 0.5, R = Math.round(a.right) - 0.5;
    const T = Math.round(a.top) + 0.5, B = Math.round(a.bottom) - 0.5;
    ctx.strokeRect(L, T, R - L, B - T);
    const len = 4;
    ctx.beginPath();
    x.ticks.forEach(t => {
      const px = Math.round(x.getPixelForValue(t.value)) + 0.5;
      ctx.moveTo(px, B); ctx.lineTo(px, B - len);
      ctx.moveTo(px, T); ctx.lineTo(px, T + len);
    });
    y.ticks.forEach(t => {
      const py = Math.round(y.getPixelForValue(t.value)) + 0.5;
      ctx.moveTo(L, py); ctx.lineTo(L + len, py);
      ctx.moveTo(R, py); ctx.lineTo(R - len, py);
    });
    ctx.stroke();
    ctx.restore();
  }
};

function axisOpts(min, max, tickValues, fitSize, horizontal) {
  return {
    type: 'linear', min, max,
    grid: { display: false, drawTicks: false },
    border: { display: false },
    afterBuildTicks: s => { s.ticks = tickValues.map(v => ({ value: v })); },
    afterFit: s => {
      if (horizontal) { s.height = fitSize; s.paddingLeft = 0; s.paddingRight = 0; }
      else { s.width = fitSize; s.paddingTop = 0; s.paddingBottom = 0; }
    },
    ticks: {
      color: AX, font: tickFont, padding: horizontal ? 10 : 7,
      maxRotation: 0, autoSkip: false,
      labelOffset: horizontal ? 0 : 1,
      callback: v => String(v)
    }
  };
}

// ---------- Chart (a) ----------
const pointsA = forceA.map((f, i) => ({ x: i / sampleRateA, y: f }));
new Chart(document.getElementById('ca'), {
  type: 'scatter',
  data: { datasets: [{
    data: pointsA, showLine: false, clip: false,
    pointRadius: 2, pointBorderWidth: 1,
    pointBorderColor: '#ff0000', pointBackgroundColor: 'rgba(255,255,255,0)'
  }] },
  options: {
    responsive: false, animation: false, events: [],
    layout: { autoPadding: false, padding: { left: 0, top: 49, right: 570, bottom: 0 } },
    plugins: { legend: { display: false }, tooltip: { enabled: false } },
    scales: {
      x: axisOpts(0, 5, xTicksA, 97, true),
      y: axisOpts(28.5, 31.5, yTicksA, 80, false)
    }
  },
  plugins: [matlabAxes]
});

// ---------- Chart (b) ----------
const pointsB = signalCountsB.map((c, i) => ({ x: i / sampleRateB, y: c * voltsPerCount }));
new Chart(document.getElementById('cb'), {
  type: 'scatter',
  data: { datasets: [{
    data: pointsB, showLine: true, clip: false, tension: 0,
    borderColor: '#D95319', borderWidth: 1.2,
    pointRadius: 1.5, pointBorderWidth: 1,
    pointBorderColor: '#D95319', pointBackgroundColor: 'rgba(255,255,255,0.12)'
  }] },
  options: {
    responsive: false, animation: false, events: [],
    layout: { autoPadding: false, padding: { left: 597, top: 60, right: 1, bottom: 0 } },
    plugins: { legend: { display: false }, tooltip: { enabled: false } },
    scales: {
      x: axisOpts(0, 5, xTicksB, 97, true),
      y: axisOpts(0.18, 0.25, yTicksB, 60, false)
    }
  },
  plugins: [matlabAxes]
});
</script>
</body></html>
